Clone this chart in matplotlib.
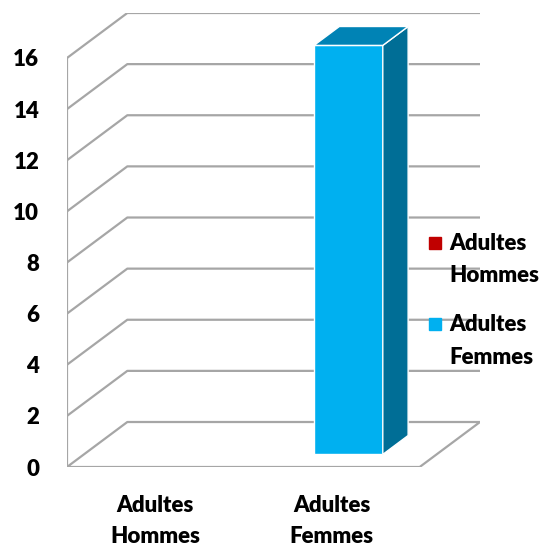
import numpy as np
import matplotlib
matplotlib.use("Agg")
from matplotlib import pyplot as plt
from matplotlib.patches import Polygon
from matplotlib.lines import Line2D
from matplotlib.legend_handler import HandlerLine2D

# données
categories = ["Adultes\nHommes", "Adultes\nFemmes"]
series_names = ["Adultes\nHommes", "Adultes\nFemmes"]
values = [0, 16]
series_colors = ["#C00000", "#00B0F0"]
top_colors = ["#900000", "#0083B5"]
side_colors = ["#800000", "#006E96"]
y_ticks = [0, 2, 4, 6, 8, 10, 12, 14, 16]

plt.rcParams['font.family'] = ['Lato', 'DejaVu Sans']

# profondeur de la perspective (en unités de données)
dx, dy = 0.342, 1.76
f0, f1 = 0.28, 0.70
bar_w = 0.39
grid_c = "#A6A6A6"
fs = 16
fw = "heavy"


# marqueur de légende aligné sur la première ligne du libellé
class FirstLineHandler(HandlerLine2D):
    def create_artists(self, legend, orig_handle, xdescent, ydescent,
                       width, height, fontsize, trans):
        return super().create_artists(legend, orig_handle, xdescent, ydescent - 25,
                                      width, height, fontsize, trans)


fig = plt.figure(figsize=(5.51, 5.49), dpi=100)
W, H = 551, 549
ax = fig.add_axes([67 / W, (H - 467) / H, (480 - 67) / W, (467 - 13) / H])
x_lo = -0.5
x_hi = len(categories) - 0.5
ax.set_xlim(x_lo, x_hi + dx)
ax.set_ylim(0, y_ticks[-1] + dy)

# murs et quadrillage
for v in y_ticks:
    if v == 0:
        ax.plot([x_lo, x_hi, x_hi + dx, x_lo + dx, x_lo],
                [0, 0, dy, dy, 0], color=grid_c, lw=1.6, zorder=1)
    else:
        ax.plot([x_lo, x_lo + dx, x_hi + dx], [v, v + dy, v + dy],
                color=grid_c, lw=1.6, zorder=1)
ax.plot([x_lo, x_lo], [0, y_ticks[-1]], color=grid_c, lw=1.6, zorder=1)

# barres
for i, v in enumerate(values):
    if v <= 0:
        continue
    x0, x1 = i - bar_w / 2, i + bar_w / 2
    front = Polygon([(x0 + f0 * dx, f0 * dy), (x1 + f0 * dx, f0 * dy),
                     (x1 + f0 * dx, v + f0 * dy), (x0 + f0 * dx, v + f0 * dy)],
                    closed=True, fc=series_colors[i], ec="white", lw=1, zorder=3)
    top = Polygon([(x0 + f0 * dx, v + f0 * dy), (x1 + f0 * dx, v + f0 * dy),
                   (x1 + f1 * dx, v + f1 * dy), (x0 + f1 * dx, v + f1 * dy)],
                  closed=True, fc=top_colors[i], ec="white", lw=1, zorder=3)
    side = Polygon([(x1 + f0 * dx, f0 * dy), (x1 + f1 * dx, f1 * dy),
                    (x1 + f1 * dx, v + f1 * dy), (x1 + f0 * dx, v + f0 * dy)],
                   closed=True, fc=side_colors[i], ec="white", lw=1, zorder=3)
    for p in (front, side, top):
        ax.add_patch(p)

ax.set_yticks(y_ticks)
ax.set_yticklabels([str(t) for t in y_ticks], fontsize=fs, fontweight=fw)
ax.set_xticks(range(len(categories)))
ax.set_xticklabels(categories, fontsize=fs, fontweight=fw)
for t in ax.get_xticklabels():
    t.set_linespacing(1.6)
ax.tick_params(axis="y", length=0, pad=20)
ax.tick_params(axis="x", length=0, pad=20)
for s in ax.spines.values():
    s.set_visible(False)
ax.patch.set_visible(False)

handles = [Line2D([], [], marker="s", ls="none", color=c, markersize=8) for c in series_colors]
leg = fig.legend(handles, series_names, loc="upper left", bbox_to_anchor=(408 / W, 1 - 213 / H),
                 frameon=False, prop={"size": fs, "weight": fw}, handlelength=0.6,
                 handletextpad=0.35, labelspacing=1.28,
                 handler_map={Line2D: FirstLineHandler()})
for t in leg.get_texts():
    t.set_linespacing(1.65)

plt.savefig("out.png", dpi=100)
